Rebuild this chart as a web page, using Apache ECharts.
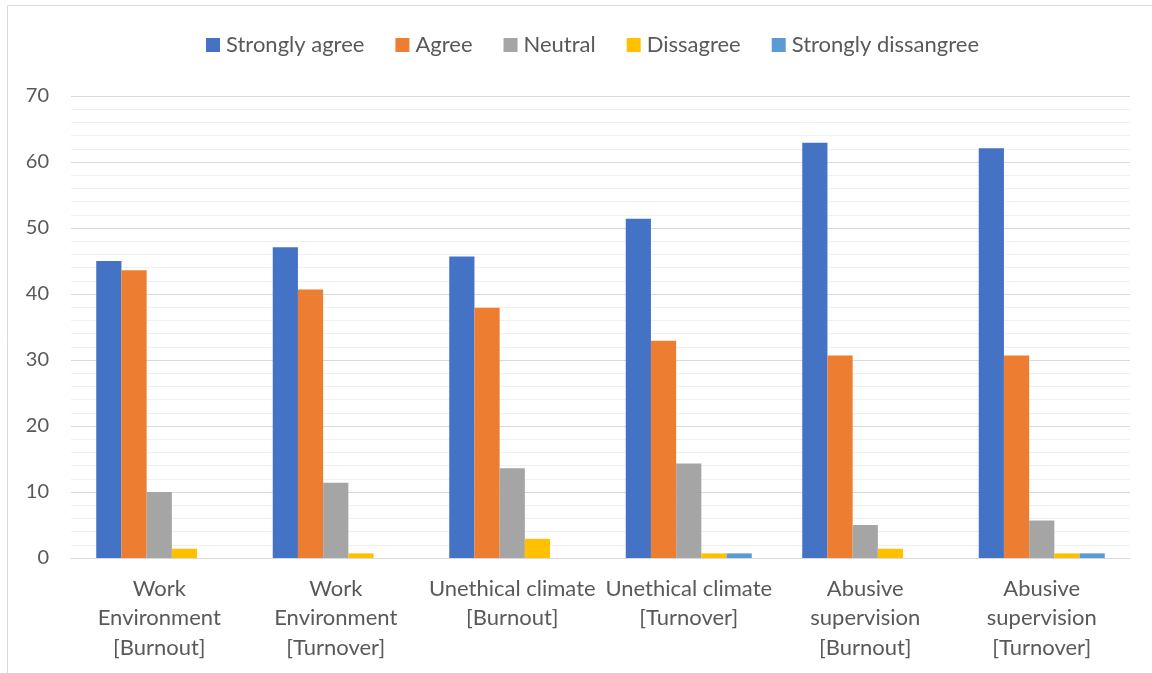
<!DOCTYPE html>
<html><head><meta charset="utf-8">
<script src="https://cdn.jsdelivr.net/npm/echarts@6/dist/echarts.min.js"></script>
<style>html,body{margin:0;padding:0;background:#fff}#c{width:1152px;height:673px}</style>
</head><body><div id="c"></div>
<script>
const categories = ["Work\nEnvironment\n[Burnout]", "Work\nEnvironment\n[Turnover]", "Unethical climate\n[Burnout]", "Unethical climate\n[Turnover]", "Abusive\nsupervision\n[Burnout]", "Abusive\nsupervision\n[Turnover]"];
const seriesNames = ["Strongly agree", "Agree", "Neutral", "Dissagree", "Strongly dissangree"];
const stronglyAgree = [45.0, 47.1, 45.7, 51.4, 62.9, 62.1];
const agree = [43.6, 40.7, 37.9, 32.9, 30.7, 30.7];
const neutral = [10.0, 11.4, 13.6, 14.3, 5.0, 5.7];
const disagree = [1.4, 0.7, 2.9, 0.7, 1.4, 0.7];
const stronglyDisagree = [0, 0, 0, 0.7, 0, 0.7];
const yTicks = [0, 10, 20, 30, 40, 50, 60, 70];

const colors = ["#4472C4", "#ED7D31", "#A5A5A5", "#FFC000", "#5B9BD5"];
const values = [stronglyAgree, agree, neutral, disagree, stronglyDisagree];
const font = "Lato, 'Open Sans', sans-serif";
const chart = echarts.init(document.getElementById('c'));
chart.setOption({
  animation: false,
  color: colors,
  graphic: [{type: 'rect', shape: {x: 7.5, y: 5.5, width: 1200, height: 700}, style: {fill: 'none', stroke: '#d9d9d9', lineWidth: 1}}],
  legend: {
    top: 29, left: 201, itemWidth: 14, itemHeight: 14, itemGap: 31,
    icon: 'rect',
    textStyle: {fontFamily: font, fontSize: 22, color: '#595959', padding: [0, 0, 0, 1]},
    data: seriesNames
  },
  grid: {left: 71, right: 22, top: 96, bottom: 115, containLabel: false},
  xAxis: {
    type: 'category', data: categories,
    axisLine: {show: true, lineStyle: {color: '#d9d9d9', width: 1}},
    axisTick: {show: false},
    axisLabel: {fontFamily: font, fontSize: 22, color: '#595959', lineHeight: 29.5, margin: 16, interval: 0}
  },
  yAxis: {
    type: 'value', min: yTicks[0], max: yTicks[yTicks.length - 1], interval: 10,
    axisLine: {show: false}, axisTick: {show: false},
    axisLabel: {fontFamily: font, fontSize: 20, color: '#595959', margin: 22},
    splitLine: {lineStyle: {color: '#d9d9d9', width: 1}},
    minorTick: {show: false, splitNumber: 5},
    minorSplitLine: {show: true, lineStyle: {color: '#f0f0f0', width: 1}}
  },
  series: seriesNames.map((n, i) => ({
    name: n, type: 'bar', data: values[i],
    barGap: '0%', barCategoryGap: '28.6%',
    itemStyle: {color: colors[i]}
  }))
});
</script></body></html>
